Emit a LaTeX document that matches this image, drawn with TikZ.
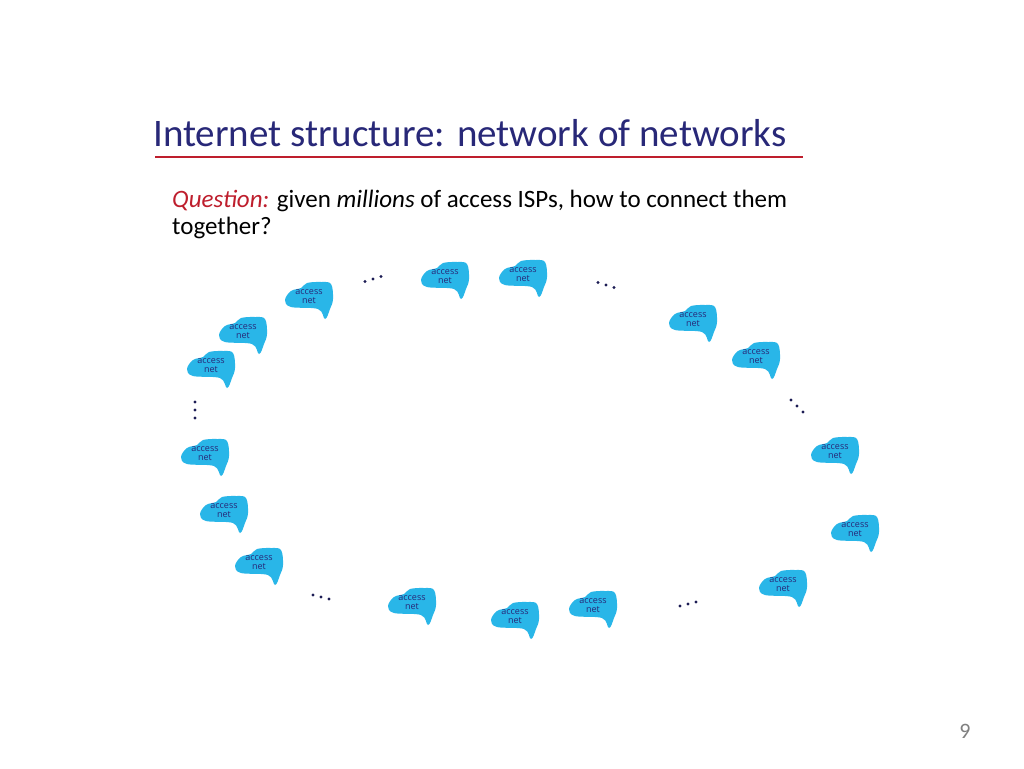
\documentclass[tikz,border=0pt]{standalone}
\usepackage{fontspec}
\setmainfont{Carlito}
\newfontfamily\blobfont{Open Sans}
\definecolor{blob}{RGB}{41,182,232}
\definecolor{ttl}{RGB}{40,40,120}
\definecolor{qred}{RGB}{190,30,45}
\begin{document}
\begin{tikzpicture}[x=1pt,y=-1pt,
  lbl/.style={font=\blobfont\fontsize{9}{9}\selectfont, text=ttl, align=center, inner sep=0pt},
  dotm/.style={fill=ttl!70!black, circle, inner sep=0pt, minimum size=3.2pt}]
\useasboundingbox (0,0) rectangle (1024,768);
\fill[white] (0,0) rectangle (1024,768);
\node[anchor=base west, inner sep=0pt, text=ttl, font=\fontsize{39}{39}\selectfont] (title) at (153,146) {Internet structure: network of networks};
\draw[qred, line width=2.2pt] (155,157) -- (803,157);
\node[anchor=base west, inner sep=0pt, align=left, font=\fontsize{25}{27}\selectfont] (q) at (172,234) {\textcolor{qred}{\itshape Question:} given \textit{millions} of access ISPs, how to connect them\\together?};
\foreach \n/\x/\y in {a/445/277,b/523/275,c/309/297,d/243/332,e/211/366,f/693/320,g/756/357,h/205/454,i/224/511,j/259/563,k/835/452,l/855/530,m/783/585,n/412/603,o/515/617,p/593/606}{
  \fill[blob, shift={(\x,\y)}] plot[smooth cycle, tension=0.6] coordinates {(-24,3) (-18,-6) (-8,-9) (-2,-14) (12,-15) (22,-13) (24,2) (21,12) (16,22) (9,12) (-18,10)};
  \node[lbl] (\n) at (\x,\y) {access\\net};
}
\foreach \n/\x/\y/\dx/\dy in {d1/373/279/8/-2.5, d2/606/285/8/2.5, d3/195/410/0/8, d4/797/406/6/6, d5/321/597/8/2, d6/688/604/8/-2}{
  \node[dotm] (\n a) at (\x-\dx,\y-\dy) {};
  \node[dotm] (\n b) at (\x,\y) {};
  \node[dotm] (\n c) at (\x+\dx,\y+\dy) {};
}
\node[text=gray, font=\fontsize{22}{22}\selectfont] (pg) at (965,731) {9};
\end{tikzpicture}
\end{document}
